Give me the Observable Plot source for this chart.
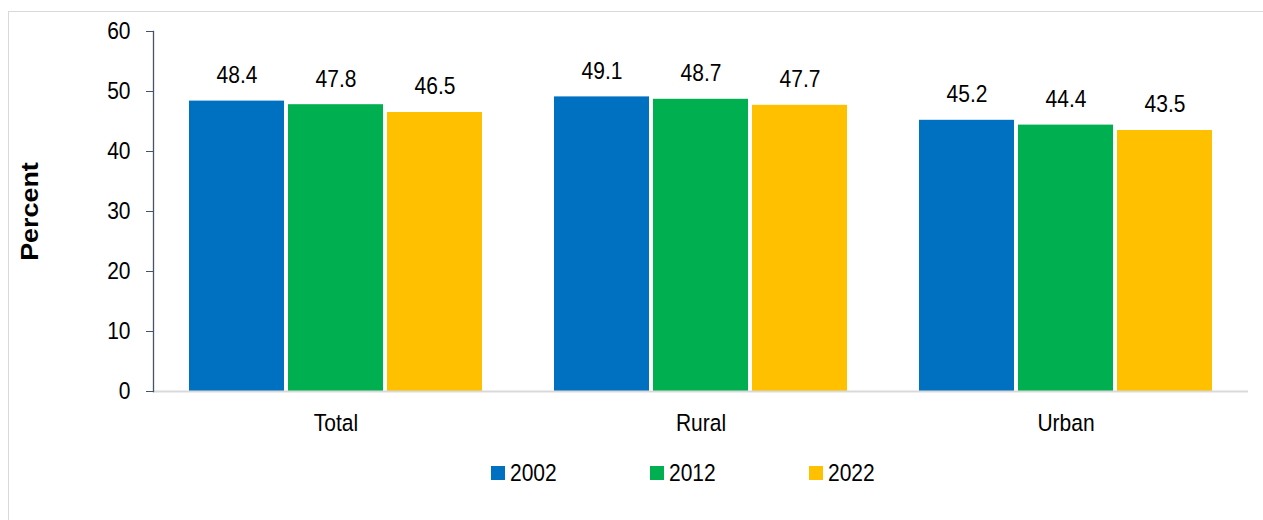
<!DOCTYPE html>
<html>
<head>
<meta charset="utf-8">
<script src="https://cdn.jsdelivr.net/npm/d3@7"></script>
<script src="https://cdn.jsdelivr.net/npm/@observablehq/plot@0.6"></script>
<style>
  html, body { margin: 0; padding: 0; background: #fff; }
  #wrap { position: relative; width: 1263px; height: 520px; overflow: hidden;
          font-family: "Liberation Sans", Arial, sans-serif; }
  #border { position: absolute; left: 8px; top: 11px; width: 1300px; height: 600px;
            border: 1px solid #d9d9d9; box-sizing: border-box; }
  #chart { position: absolute; left: 0; top: 0; }
  #chart text.noTr { transform-box: fill-box; transform-origin: center; transform: scaleY(1.17); }
  #legend { position: absolute; left: 491px; top: 456px; }
  #legend .lg-swatch { margin-right: 0 !important; width: 159px; font-size: 21px; color: #000; }
  #legend .lg-swatch > svg { margin-right: 5px !important; }
  #legend .lg-txt { display: inline-block; transform: scaleY(1.17); }
</style>
</head>
<body>
<div id="wrap">
  <div id="border"></div>
  <div id="chart"></div>
  <div id="legend"></div>
</div>
<script>
const categories = ["Total", "Rural", "Urban"];
const years = ["2002", "2012", "2022"];
const values2002 = [48.4, 49.1, 45.2];
const values2012 = [47.8, 48.7, 44.4];
const values2022 = [46.5, 47.7, 43.5];
const yTicks = [0, 10, 20, 30, 40, 50, 60];
const colors = ["#0070C0", "#00B050", "#FFC000"];

const seriesValues = [values2002, values2012, values2022];
const rows = [];
categories.forEach((c, i) => {
  years.forEach((y, j) => rows.push({category: c, year: y, value: seriesValues[j][i]}));
});

const font = '"Liberation Sans", Arial, sans-serif';
const axisColor = "#44546a";
const stretch = 1.17;

const chart = Plot.plot({
  width: 1263,
  height: 445,
  marginLeft: 153,
  marginRight: 15,
  marginTop: 31,
  marginBottom: 54,
  style: {fontFamily: font, fontSize: "21px", color: "#000", background: "transparent"},
  fx: {domain: categories, padding: 0, label: null, round: false},
  x: {domain: years, paddingInner: 0.0404, paddingOuter: 0.3636, axis: null, round: false},
  y: {domain: [0, 60], label: null},
  color: {domain: years, range: colors},
  marks: [
    Plot.barY(rows, {fx: "category", x: "year", y: "value", fill: "year"}),
    Plot.ruleY([0], {stroke: "#d9d9d9", strokeWidth: 2}),
    Plot.frame({anchor: "left", stroke: axisColor, strokeWidth: 1.3, fx: ["Total"]}),
    Plot.text(rows, {fx: "category", x: "year", y: "value", text: d => d.value.toFixed(1),
                     dy: -26, lineAnchor: "middle", fontSize: 21, fill: "#000"}),
    Plot.axisY({ticks: yTicks, tickSize: 7, tickPadding: 16, stroke: axisColor, fill: "#000",
                fontSize: 21, label: null, tickFormat: d => String(d)}),
    Plot.axisY({ticks: [], label: "Percent", labelAnchor: "center", labelArrow: "none",
                labelOffset: 132, fontWeight: "bold", fontSize: 23, fill: "#000"}),
    Plot.axisFx({anchor: "bottom", tickSize: 0, tickPadding: 22, fontSize: 21, fill: "#000", label: null})
  ]
});
// The reference text is drawn slightly stretched vertically (narrow, tall glyphs)
d3.select(chart).selectAll("text").each(function() {
  const t = this.getAttribute("transform");
  if (t) {
    if (/rotate/.test(t)) this.setAttribute("transform", t + ` scale(${stretch},1)`);
    else this.setAttribute("transform", t + ` scale(1,${stretch})`);
  } else {
    this.classList.add("noTr");
  }
});
document.getElementById("chart").appendChild(chart);

const legend = Plot.legend({
  color: {domain: years, range: colors},
  legend: "swatches",
  swatchSize: 14,
  className: "lg",
  style: {fontFamily: font}
});
d3.select(legend).selectAll(".lg-swatch").each(function() {
  Array.from(this.childNodes).forEach(n => {
    if (n.nodeType === 3 && n.textContent.trim()) {
      const s = document.createElement("span");
      s.className = "lg-txt";
      s.textContent = n.textContent;
      this.replaceChild(s, n);
    }
  });
});
document.getElementById("legend").appendChild(legend);
</script>
</body>
</html>
